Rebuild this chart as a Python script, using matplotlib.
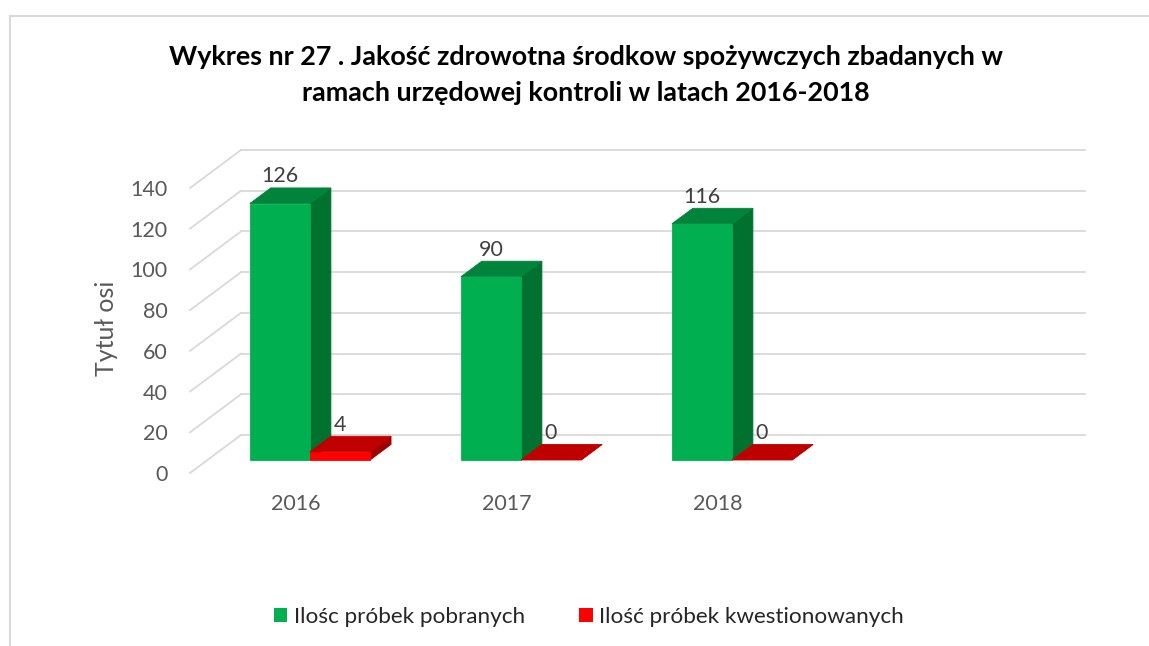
import matplotlib.pyplot as plt
from matplotlib.patches import Polygon, Patch
from matplotlib.lines import Line2D

# Dane do wykresu
years = ["2016", "2017", "2018"]
pobrane = [126, 90, 116]
kwestionowane = [4, 0, 0]
y_ticks = [0, 20, 40, 60, 80, 100, 120, 140]
series_names = ["Ilośc próbek pobranych", "Ilość próbek kwestionowanych"]
title = ("Wykres nr 27 . Jakość zdrowotna środkow spożywczych zbadanych w\n"
         "ramach urzędowej kontroli w latach 2016-2018")

plt.rcParams["font.family"] = ["Lato", "DejaVu Sans"]

# kolory: przód, góra, bok
GREEN = ("#00B050", "#00843C", "#00712F")
RED = ("#FF0000", "#C00000", "#A00000")
GRID = "#D9D9D9"

N_SLOTS = 4          # ostatnia kategoria pusta
DX, DY = 0.2417, 18.66   # przesunięcie głębi (podłoga od przodu do ściany)
T0, T1 = 0.342, 0.752    # głębokość słupków
BAR_W = 0.285
GROUP_C = 0.486


def box(ax, x0, w, h, colors):
    front, top, side = colors
    fx, fy = T0 * DX, T0 * DY
    bx, by = T1 * DX, T1 * DY
    kw = dict(closed=True, clip_on=False, linewidth=0.6, zorder=3)
    ax.add_patch(Polygon([(x0 + w + fx, fy), (x0 + w + bx, by),
                          (x0 + w + bx, h + by), (x0 + w + fx, h + fy)],
                         facecolor=side, edgecolor=side, **kw))
    if h > 0:
        ax.add_patch(Polygon([(x0 + fx, fy), (x0 + w + fx, fy),
                              (x0 + w + fx, h + fy), (x0 + fx, h + fy)],
                             facecolor=front, edgecolor=front, **kw))
    ax.add_patch(Polygon([(x0 + fx, h + fy), (x0 + w + fx, h + fy),
                          (x0 + w + bx, h + by), (x0 + bx, h + by)],
                         facecolor=top, edgecolor=top, **kw))
    # etykieta wartości
    ax.text(x0 + fx + w / 2, h + by + 0.8, str(h), ha="center", va="bottom",
            fontsize=15.5, color="#404040", zorder=4)


fig = plt.figure(figsize=(11.49, 6.46), dpi=100)
ax = fig.add_axes([190 / 1149, (646 - 473) / 646, 844 / 1149, 285 / 646])
ax.set_xlim(0, N_SLOTS)
ax.set_ylim(0, 140)
ax.patch.set_alpha(0)
for s in ax.spines.values():
    s.set_visible(False)

# siatka: ściana tylna i linie boczne
for v in y_ticks:
    ax.plot([DX, N_SLOTS + DX], [v + DY, v + DY], color=GRID, lw=1.3,
            clip_on=False, zorder=1)
    ax.plot([0, DX], [v, v + DY], color=GRID, lw=1.3, clip_on=False, zorder=1)

for i in range(len(years)):
    left = i + GROUP_C - BAR_W
    box(ax, left, BAR_W, pobrane[i], GREEN)
    box(ax, left + BAR_W, BAR_W, kwestionowane[i], RED)

ax.set_yticks(y_ticks)
ax.set_yticklabels([str(v) for v in y_ticks])
ax.set_xticks([i + 0.5 for i in range(len(years))])
ax.set_xticklabels(years)
ax.tick_params(axis="y", length=0, pad=16, labelsize=15.5, labelcolor="#595959")
ax.tick_params(axis="x", length=0, pad=15, labelsize=15.5, labelcolor="#595959")

fig.text(107 / 1149, 1 - 328 / 646, "Tytuł osi", rotation=90, ha="center",
         va="center", fontsize=18, color="#595959")

fig.text(586 / 1149, 1 - 75 / 646, title, ha="center", va="center",
         fontsize=19.4, fontweight="bold", color="black", linespacing=1.6)

handles = [Patch(facecolor=GREEN[0]), Patch(facecolor=RED[0])]
fig.legend(handles, series_names, loc="center", bbox_to_anchor=(589 / 1149, 1 - 617 / 646),
           ncol=2, frameon=False, fontsize=16.2, handlelength=0.6, handleheight=0.6,
           handletextpad=0.3, columnspacing=2.4, labelcolor="#262626")

# ramka wykresu
fig.add_artist(Line2D([10 / 1149, 1], [1 - 15.5 / 646] * 2, color=GRID, lw=1.5))
fig.add_artist(Line2D([10 / 1149] * 2, [0, 1 - 15.5 / 646], color=GRID, lw=1.5))

fig.savefig("out.png", dpi=100, facecolor="white")
